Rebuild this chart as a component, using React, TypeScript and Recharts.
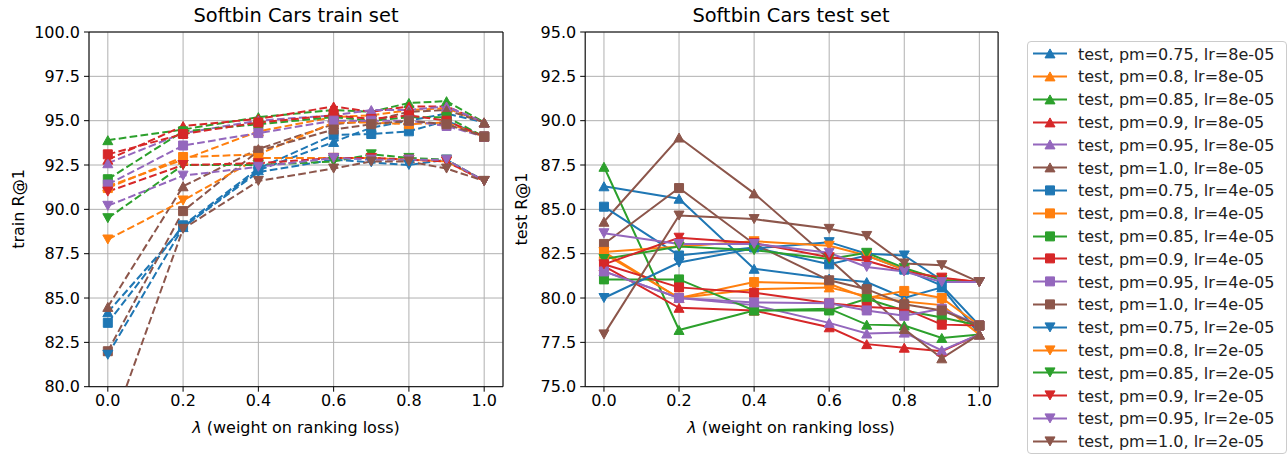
import React from 'react';
import { LineChart, Line, XAxis, YAxis, CartesianGrid, ReferenceArea } from 'recharts';

const lambdas = [0, 0.2, 0.4, 0.6, 0.7, 0.8, 0.9, 1.0];
const xTicks = [0, 0.2, 0.4, 0.6, 0.8, 1.0];
const trainTicks = [80, 82.5, 85, 87.5, 90, 92.5, 95, 97.5, 100];
const testTicks = [75, 77.5, 80, 82.5, 85, 87.5, 90, 92.5, 95];

const pms = ['0.75', '0.8', '0.85', '0.9', '0.95', '1.0'];
const lrs = ['8e-05', '4e-05', '2e-05'];
const colors = ['#1f77b4', '#ff7f0e', '#2ca02c', '#d62728', '#9467bd', '#8c564b'];
const markers = ['up', 'square', 'down'];

// train R@1, one row per pm (0.75 .. 1.0), columns follow lambdas
const trainLr8 = [
  [84.2, 89.0, 92.2, 93.8, 94.6, 95.0, 95.4, 94.9],
  [91.3, 92.8, 94.4, 95.2, 95.3, 95.6, 95.7, 94.9],
  [93.9, 94.5, 95.2, 95.6, 95.5, 96.0, 96.1, 94.9],
  [92.8, 94.7, 95.1, 95.8, 95.5, 95.8, 95.8, 94.9],
  [92.6, 94.3, 95.0, 95.3, 95.6, 95.6, 95.8, 94.9],
  [84.5, 91.3, 93.4, 94.8, 95.0, 95.5, 95.6, 94.9],
];
const trainLr4 = [
  [83.6, 89.1, 92.3, 94.2, 94.25, 94.4, 95.0, 94.1],
  [91.2, 92.95, 93.1, 94.9, 94.9, 94.8, 94.9, 94.1],
  [91.7, 94.4, 94.8, 95.2, 95.0, 95.2, 95.2, 94.1],
  [93.1, 94.25, 94.9, 95.3, 95.1, 95.3, 95.0, 94.1],
  [91.4, 93.6, 94.3, 95.0, 95.0, 95.0, 94.7, 94.1],
  [82.0, 89.9, 93.3, 94.5, 94.8, 95.0, 94.8, 94.1],
];
const trainLr2 = [
  [81.8, 89.0, 92.1, 92.8, 92.65, 92.5, 92.8, 91.6],
  [88.3, 90.5, 92.9, 92.9, 92.9, 92.8, 92.7, 91.6],
  [89.5, 92.5, 92.5, 92.7, 93.1, 92.9, 92.8, 91.6],
  [91.0, 92.5, 92.6, 92.9, 92.9, 92.8, 92.7, 91.6],
  [90.2, 91.9, 92.4, 92.9, 92.8, 92.8, 92.8, 91.6],
  [77.1, 88.9, 91.6, 92.3, 92.7, 92.7, 92.3, 91.6],
];

// test R@1
const testLr8 = [
  [86.3, 85.6, 81.65, 81.1, 80.9, 80.0, 80.6, 77.95],
  [82.5, 80.0, 80.5, 80.6, 80.1, 79.8, 79.6, 77.95],
  [87.4, 78.2, 79.3, 79.4, 78.5, 78.45, 77.75, 77.95],
  [81.8, 79.45, 79.3, 78.35, 77.4, 77.2, 77.0, 77.95],
  [81.5, 80.0, 79.6, 78.6, 78.0, 78.05, 77.05, 77.95],
  [84.3, 89.05, 85.9, 82.2, 80.3, 78.25, 76.6, 77.95],
];
const testLr4 = [
  [85.15, 82.4, 82.85, 81.9, 82.4, 81.6, 80.7, 78.45],
  [82.6, 80.0, 80.9, 80.8, 80.0, 80.4, 80.0, 78.45],
  [81.05, 81.05, 79.3, 79.3, 79.95, 79.3, 78.9, 78.45],
  [81.9, 80.6, 80.3, 79.7, 79.5, 79.4, 78.5, 78.45],
  [81.5, 80.0, 79.75, 79.7, 79.3, 79.0, 79.4, 78.45],
  [83.05, 86.2, 83.05, 81.0, 80.5, 79.65, 79.3, 78.45],
];
const testLr2 = [
  [80.0, 82.0, 82.8, 83.15, 82.5, 82.4, 81.0, 80.9],
  [82.6, 82.9, 83.2, 82.95, 82.4, 81.6, 81.1, 80.9],
  [82.2, 82.9, 82.7, 82.2, 82.55, 81.7, 81.0, 80.9],
  [81.9, 83.4, 83.1, 82.3, 82.1, 81.5, 81.15, 80.9],
  [83.65, 83.05, 83.05, 82.55, 81.75, 81.5, 80.9, 80.9],
  [77.95, 84.65, 84.45, 83.9, 83.5, 81.95, 81.85, 80.9],
];

const FONT = '"DejaVu Sans", sans-serif';

const buildRows = (groups: number[][][]) =>
  lambdas.map((x, i) => {
    const row: any = { x };
    groups.forEach((g, li) => g.forEach((vals, pi) => { row['s' + (li * 6 + pi)] = vals[i]; }));
    return row;
  });

const trainRows = buildRows([trainLr8, trainLr4, trainLr2]);
const testRows = buildRows([testLr8, testLr4, testLr2]);

const markerPath = (m: string, cx: number, cy: number) => {
  if (m === 'up') return `M${cx},${cy - 4.5}L${cx + 5},${cy + 4.5}L${cx - 5},${cy + 4.5}Z`;
  if (m === 'down') return `M${cx},${cy + 4.5}L${cx + 5},${cy - 4.5}L${cx - 5},${cy - 4.5}Z`;
  return `M${cx - 4.5},${cy - 4.5}h9v9h-9Z`;
};

const makeDot = (m: string, color: string) => (p: any) => {
  const { cx, cy, index } = p;
  if (cx == null || cy == null || isNaN(cx) || isNaN(cy)) return <g key={index} />;
  return <path key={index} d={markerPath(m, cx, cy)} fill={color} stroke={color} strokeWidth={1} />;
};

const tickStyle = { fill: '#000', fontSize: 16, fontFamily: FONT };

function Panel({ rows, yMin, yMax, yTicks, dashed, width, marginLeft, marginRight }: any) {
  return (
    <LineChart
      width={width}
      height={454}
      data={rows}
      margin={{ top: 32, right: marginRight, bottom: 27.3, left: marginLeft }}
    >
      <CartesianGrid stroke="#b0b0b0" strokeWidth={1} fill="none" />
      <XAxis
        type="number"
        dataKey="x"
        domain={[-0.05, 1.05]}
        allowDataOverflow
        ticks={xTicks}
        interval={0}
        tickFormatter={(v: number) => v.toFixed(1)}
        tick={tickStyle}
        tickLine={{ stroke: '#000' }}
        axisLine={false}
        tickSize={5}
        tickMargin={3}
        height={40}
      />
      <YAxis
        type="number"
        domain={[yMin, yMax]}
        allowDataOverflow
        ticks={yTicks}
        interval={0}
        tickFormatter={(v: number) => v.toFixed(1)}
        tick={tickStyle}
        tickLine={{ stroke: '#000' }}
        axisLine={false}
        tickSize={5}
        tickMargin={4}
        width={60}
      />
      {lrs.map((lr, li) =>
        pms.map((pm, pi) => {
          const k = li * 6 + pi;
          return (
            <Line
              key={k}
              dataKey={'s' + k}
              stroke={colors[pi]}
              strokeWidth={2}
              strokeDasharray={dashed ? '7.7 3.3' : undefined}
              dot={makeDot(markers[li], colors[pi])}
              activeDot={false}
              isAnimationActive={false}
            />
          );
        })
      )}
      <ReferenceArea
        x1={-0.05}
        x2={1.05}
        y1={yMin}
        y2={yMax}
        fill="none"
        stroke="#000"
        strokeWidth={1}
        ifOverflow="visible"
      />
    </LineChart>
  );
}

const text = (extra: any) => ({
  position: 'absolute' as const,
  fontFamily: FONT,
  color: '#000',
  whiteSpace: 'nowrap' as const,
  ...extra,
});

export default function App() {
  return (
    <div style={{ position: 'absolute', left: 0, top: 0, width: 1288, height: 454, background: '#fff', overflow: 'hidden' }}>
      <div style={{ position: 'absolute', left: 0, top: 0 }}>
        <Panel rows={trainRows} yMin={80} yMax={100} yTicks={trainTicks} dashed width={520} marginLeft={29} marginRight={17} />
      </div>
      <div style={{ position: 'absolute', left: 520, top: 0 }}>
        <Panel rows={testRows} yMin={75} yMax={95} yTicks={testTicks} dashed={false} width={500} marginLeft={5.2} marginRight={21.9} />
      </div>

      <div style={text({ left: 296, top: 15, fontSize: 19.4, transform: 'translate(-50%, -50%)' })}>Softbin Cars train set</div>
      <div style={text({ left: 791, top: 15, fontSize: 19.4, transform: 'translate(-50%, -50%)' })}>Softbin Cars test set</div>
      <div style={text({ left: 296, top: 427, fontSize: 16, transform: 'translate(-50%, -50%)' })}><i>λ</i> (weight on ranking loss)</div>
      <div style={text({ left: 791, top: 427, fontSize: 16, transform: 'translate(-50%, -50%)' })}><i>λ</i> (weight on ranking loss)</div>
      <div style={text({ left: 18, top: 209, fontSize: 16, transform: 'translate(-50%, -50%) rotate(-90deg)' })}>train R@1</div>
      <div style={text({ left: 521, top: 209, fontSize: 16, transform: 'translate(-50%, -50%) rotate(-90deg)' })}>test R@1</div>

      <div style={{ position: 'absolute', left: 1027, top: 41, width: 258, height: 411, border: '1px solid #cccccc', borderRadius: 4, background: '#fff' }}>
        {lrs.map((lr, li) =>
          pms.map((pm, pi) => {
            const k = li * 6 + pi;
            return (
              <div key={k} style={{ position: 'absolute', left: 0, top: 11.6 + k * 22.8 - 11.4, height: 22.8, width: 258 }}>
                <svg width={40} height={22.8} style={{ position: 'absolute', left: 4, top: 0 }}>
                  <line x1={1} x2={35} y1={11.4} y2={11.4} stroke={colors[pi]} strokeWidth={2} />
                  <path d={markerPath(markers[li], 18, 11.4)} fill={colors[pi]} stroke={colors[pi]} strokeWidth={1} />
                </svg>
                <div style={text({ left: 50, top: 11.4, fontSize: 16, transform: 'translateY(-50%)', color: '#222' })}>
                  {`test, pm=${pm}, lr=${lr}`}
                </div>
              </div>
            );
          })
        )}
      </div>
    </div>
  );
}
